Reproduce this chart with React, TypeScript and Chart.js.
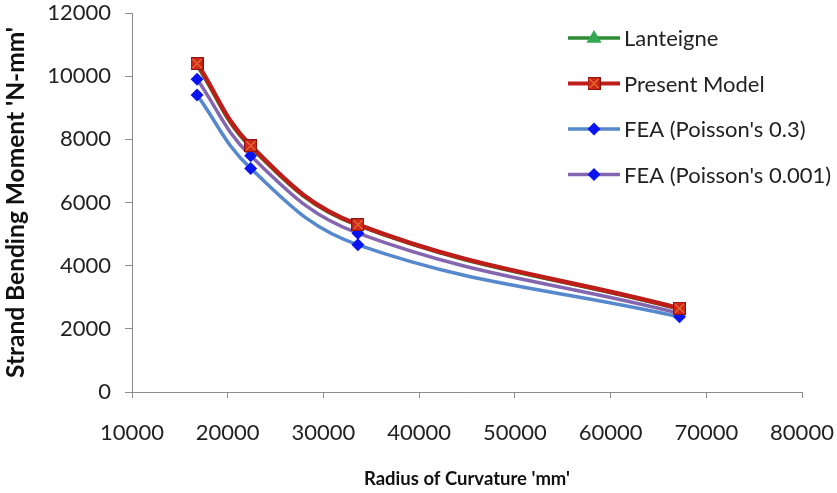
import { useEffect, useRef } from "react";
import { Chart, registerables } from "chart.js";

Chart.register(...registerables);

// ---- data ----
const radiusOfCurvature = [16800, 22400, 33600, 67200];
const lanteigne = [10350, 7760, 5280, 2630];
const presentModel = [10400, 7800, 5300, 2650];
const feaPoisson03 = [9400, 7080, 4660, 2380];
const feaPoisson0001 = [9900, 7480, 5030, 2490];
const seriesNames = ["Lanteigne", "Present Model", "FEA (Poisson's 0.3)", "FEA (Poisson's 0.001)"];
const xTickValues = [10000, 20000, 30000, 40000, 50000, 60000, 70000, 80000];
const yTickValues = [0, 2000, 4000, 6000, 8000, 10000, 12000];
const xTitle = "Radius of Curvature 'mm'";
const yTitle = "Strand Bending Moment 'N-mm'";

const FONT = "Lato, 'DejaVu Sans', sans-serif";

function makeSquareX(size: number): HTMLCanvasElement {
  const c = document.createElement("canvas");
  c.width = size;
  c.height = size;
  const g = c.getContext("2d")!;
  g.fillStyle = "#d0281c";
  g.fillRect(0, 0, size, size);
  g.strokeStyle = "#8e1410";
  g.lineWidth = 1;
  g.strokeRect(0.5, 0.5, size - 1, size - 1);
  g.strokeStyle = "#f2a23a";
  g.beginPath();
  g.moveTo(2, 2);
  g.lineTo(size - 2, size - 2);
  g.moveTo(size - 2, 2);
  g.lineTo(2, size - 2);
  g.stroke();
  return c;
}

function drawDiamond(ctx: CanvasRenderingContext2D, x: number, y: number, r: number, fill: string) {
  ctx.beginPath();
  ctx.moveTo(x, y - r);
  ctx.lineTo(x + r, y);
  ctx.lineTo(x, y + r);
  ctx.lineTo(x - r, y);
  ctx.closePath();
  ctx.fillStyle = fill;
  ctx.fill();
}

function drawTriangle(ctx: CanvasRenderingContext2D, x: number, y: number, r: number, fill: string) {
  ctx.beginPath();
  ctx.moveTo(x, y - r);
  ctx.lineTo(x + r * 0.95, y + r * 0.6);
  ctx.lineTo(x - r * 0.95, y + r * 0.6);
  ctx.closePath();
  ctx.fillStyle = fill;
  ctx.fill();
}

export default function App() {
  const ref = useRef<HTMLCanvasElement>(null);

  useEffect(() => {
    document.body.style.margin = "0";
    const square = makeSquareX(13);
    const lineColors = ["#2e8b35", "#be1e1a", "#5588cc", "#8466b0"];
    const markerColors = ["#33a852", "#d0281c", "#0a14f0", "#0a14f0"];

    const legendPlugin = {
      id: "customLegend",
      afterDraw(chart: any) {
        const ctx = chart.ctx as CanvasRenderingContext2D;
        ctx.save();
        const x0 = 568;
        const x1 = 620;
        const xm = 594;
        seriesNames.forEach((name, i) => {
          const y = 38 + i * 45.5;
          ctx.strokeStyle = lineColors[i];
          ctx.lineWidth = i === 1 ? 4 : 3.5;
          ctx.beginPath();
          ctx.moveTo(x0, y);
          ctx.lineTo(x1, y);
          ctx.stroke();
          if (i === 0) drawTriangle(ctx, xm, y, 8, markerColors[0]);
          else if (i === 1) ctx.drawImage(square, xm - 6.5, y - 6.5);
          else drawDiamond(ctx, xm, y, 6.5, markerColors[i]);
          ctx.fillStyle = "#222";
          ctx.font = `22px ${FONT}`;
          ctx.textBaseline = "middle";
          ctx.textAlign = "left";
          ctx.fillText(name, 624, y + 1);
        });
        ctx.restore();
      },
    };

    const mk = (d: number[]) => d.map((v, i) => ({ x: radiusOfCurvature[i], y: v }));

    const chart = new Chart(ref.current!, {
      type: "line",
      data: {
        datasets: [
          {
            label: seriesNames[0],
            data: mk(lanteigne),
            borderColor: lineColors[0],
            backgroundColor: markerColors[0],
            borderWidth: 4,
            pointStyle: "triangle",
            pointRadius: 7,
            pointBorderWidth: 0,
            tension: 0.4,
            order: 1,
          },
          {
            label: seriesNames[1],
            data: mk(presentModel),
            borderColor: lineColors[1],
            backgroundColor: markerColors[1],
            borderWidth: 4.5,
            pointStyle: square as any,
            pointRadius: 6.5,
            tension: 0.4,
            order: 0,
          },
          {
            label: seriesNames[2],
            data: mk(feaPoisson03),
            borderColor: lineColors[2],
            backgroundColor: markerColors[2],
            borderWidth: 3.5,
            pointStyle: "rectRot",
            pointRadius: 6.5,
            pointBorderWidth: 0,
            tension: 0.4,
            order: 3,
          },
          {
            label: seriesNames[3],
            data: mk(feaPoisson0001),
            borderColor: lineColors[3],
            backgroundColor: markerColors[3],
            borderWidth: 3.5,
            pointStyle: "rectRot",
            pointRadius: 6.5,
            pointBorderWidth: 0,
            tension: 0.4,
            order: 2,
          },
        ],
      },
      options: {
        responsive: false,
        animation: false,
        layout: { padding: { top: 13, right: 35, bottom: 0, left: 0 } },
        plugins: {
          legend: { display: false },
          tooltip: { enabled: false },
        },
        scales: {
          x: {
            type: "linear",
            min: 10000,
            max: 80000,
            afterBuildTicks: (s: any) => {
              s.ticks = xTickValues.map((v) => ({ value: v }));
            },
            afterFit: (s: any) => {
              s.height = 101;
              s.paddingLeft = 0;
              s.paddingRight = 0;
              s.paddingTop = 0;
              s.paddingBottom = 0;
            },
            ticks: {
              callback: (v: any) => String(v),
              color: "#222",
              font: { family: FONT, size: 22 },
              padding: 22,
              maxRotation: 0,
              autoSkip: false,
            },
            grid: {
              drawOnChartArea: false,
              drawTicks: true,
              tickLength: 6,
              color: "#8c8c8c",
            },
            border: { display: true, color: "#8c8c8c", width: 1 },
            title: {
              display: true,
              text: xTitle,
              color: "#111",
              font: { family: FONT, size: 18.5, weight: "bold" },
              padding: { top: 0, bottom: 3 },
            },
          },
          y: {
            type: "linear",
            min: 0,
            max: 12000,
            afterBuildTicks: (s: any) => {
              s.ticks = yTickValues.map((v) => ({ value: v }));
            },
            afterFit: (s: any) => {
              s.width = 132;
              s.paddingLeft = 0;
              s.paddingRight = 0;
              s.paddingTop = 0;
              s.paddingBottom = 0;
            },
            ticks: {
              callback: (v: any) => String(v),
              color: "#222",
              font: { family: FONT, size: 22 },
              padding: 14,
              autoSkip: false,
            },
            grid: {
              drawOnChartArea: false,
              drawTicks: true,
              tickLength: 7,
              color: "#8c8c8c",
            },
            border: { display: true, color: "#8c8c8c", width: 1 },
            title: {
              display: true,
              text: yTitle,
              color: "#111",
              font: { family: FONT, size: 24.5, weight: "bold" },
              padding: { top: 1, bottom: 0 },
            },
          },
        },
      },
      plugins: [legendPlugin],
    } as any);

    return () => chart.destroy();
  }, []);

  return (
    <div style={{ width: 837, height: 493, background: "#fff" }}>
      <canvas ref={ref} width={837} height={493} style={{ width: 837, height: 493, display: "block" }} />
    </div>
  );
}
